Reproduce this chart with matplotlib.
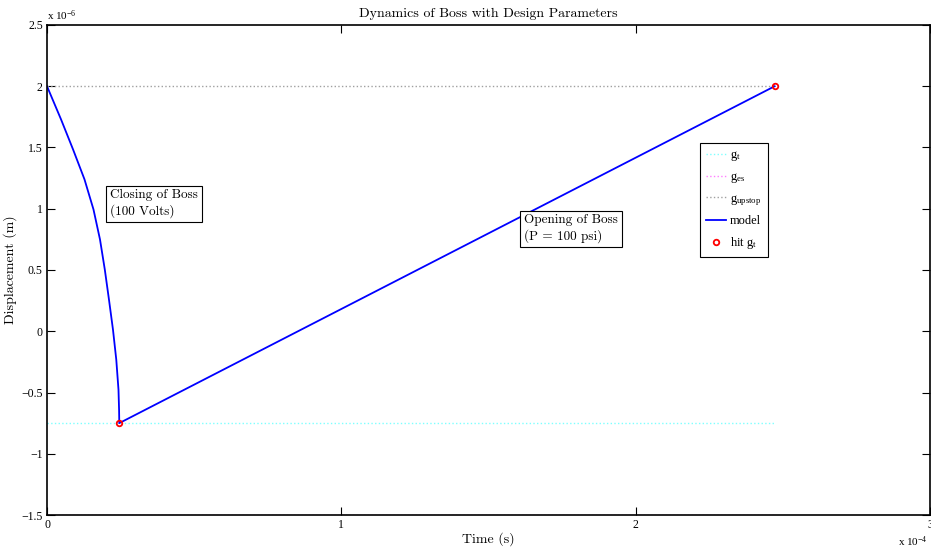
import matplotlib
matplotlib.use("Agg")
import matplotlib.pyplot as plt

plt.rcParams['font.family'] = ['Liberation Serif', 'DejaVu Serif']
plt.rcParams['mathtext.fontset'] = 'custom'
plt.rcParams['mathtext.rm'] = 'Liberation Serif'
plt.rcParams['mathtext.it'] = 'Liberation Serif:italic'

# 时间单位 1e-4 s，位移单位 1e-6 m
close_t = [0.0, 0.0475, 0.0883, 0.1273, 0.1579, 0.1800, 0.1963, 0.2105, 0.2241,
           0.2353, 0.2428, 0.2448, 0.2455]
close_y = [2.0, 1.730, 1.485, 1.240, 0.994, 0.749, 0.504, 0.258, 0.013,
           -0.232, -0.477, -0.641, -0.75]
open_t = [0.2455, 2.472]
open_y = [-0.75, 2.0]

hit_t = [0.2455, 2.472]
hit_y = [-0.75, 2.0]

g_t = -0.75
g_es = -1.5
g_upstop = 2.0
t_end = 2.472

x_ticks = [0, 1, 2, 3]
y_ticks = [-1.5, -1, -0.5, 0, 0.5, 1, 1.5, 2, 2.5]
y_tick_labels = ['\u22121.5', '\u22121', '\u22120.5', '0', '0.5', '1', '1.5', '2', '2.5']

CM = 'cmr10'


def draw():
    fig = plt.figure(figsize=(9.31, 5.48), dpi=100)
    ax = fig.add_axes([0.0505, 0.0602, 0.9485, 0.8942])

    ax.plot([0, t_end], [g_t, g_t], ':', color='#7fffff', lw=1.0, label=r'g$_\mathrm{t}$')
    ax.plot([0, t_end], [g_es, g_es], ':', color='#ff7fff', lw=1.0, label=r'g$_\mathrm{es}$')
    ax.plot([0, t_end], [g_upstop, g_upstop], ':', color='#a0a0a0', lw=1.0,
            label=r'g$_\mathrm{upstop}$')
    ax.plot(close_t + open_t[1:], close_y + open_y[1:], '-', color='#0000ff', lw=1.3,
            label='model')
    ax.plot(hit_t, hit_y, 'o', mfc='none', mec='#ff0000', mew=1.3, ms=4,
            ls='none', label=r'hit g$_\mathrm{t}$')

    ax.set_xlim(0, 3)
    ax.set_ylim(-1.5, 2.5)
    ax.set_xticks(x_ticks)
    ax.set_xticklabels([str(v) for v in x_ticks])
    ax.set_yticks(y_ticks)
    ax.set_yticklabels(y_tick_labels)
    ax.tick_params(direction='in', length=6, width=0.8, labelsize=8.5,
                   top=True, right=True, pad=3)
    for s in ax.spines.values():
        s.set_linewidth(1.2)

    ax.set_title('Dynamics of Boss with Design Parameters', fontfamily=CM,
                 fontsize=10, pad=6)
    ax.set_xlabel('Time (s)', fontfamily=CM, fontsize=10, labelpad=1)
    ax.set_ylabel('Displacement (m)', fontfamily=CM, fontsize=10, labelpad=3)

    # 指数标注
    ax.text(0.0, 1.004, r'x 10$^{-6}$', transform=ax.transAxes, fontsize=8,
            ha='left', va='bottom')
    ax.text(0.997, -0.04, r'x 10$^{-4}$', transform=ax.transAxes, fontsize=8,
            ha='right', va='top')

    box = dict(facecolor='white', edgecolor='black', boxstyle='square,pad=0.3', lw=0.8)
    ax.text(0.213, 1.16, 'Closing of Boss\n(100 Volts)', fontfamily=CM, fontsize=9.5,
            va='top', ha='left', bbox=box, linespacing=1.3)
    ax.text(1.62, 0.955, 'Opening of Boss\n(P = 100 psi)', fontfamily=CM, fontsize=9.5,
            va='top', ha='left', bbox=box, linespacing=1.3)

    leg = ax.legend(loc='upper left', bbox_to_anchor=(0.7395, 0.759), fontsize=9,
                    handlelength=1.6, handletextpad=0.3, borderpad=0.5,
                    labelspacing=0.62, fancybox=False, framealpha=1,
                    edgecolor='black', borderaxespad=0)
    leg.get_frame().set_linewidth(0.8)

    fig.savefig('out.png', dpi=100)


if __name__ == '__main__':
    draw()
